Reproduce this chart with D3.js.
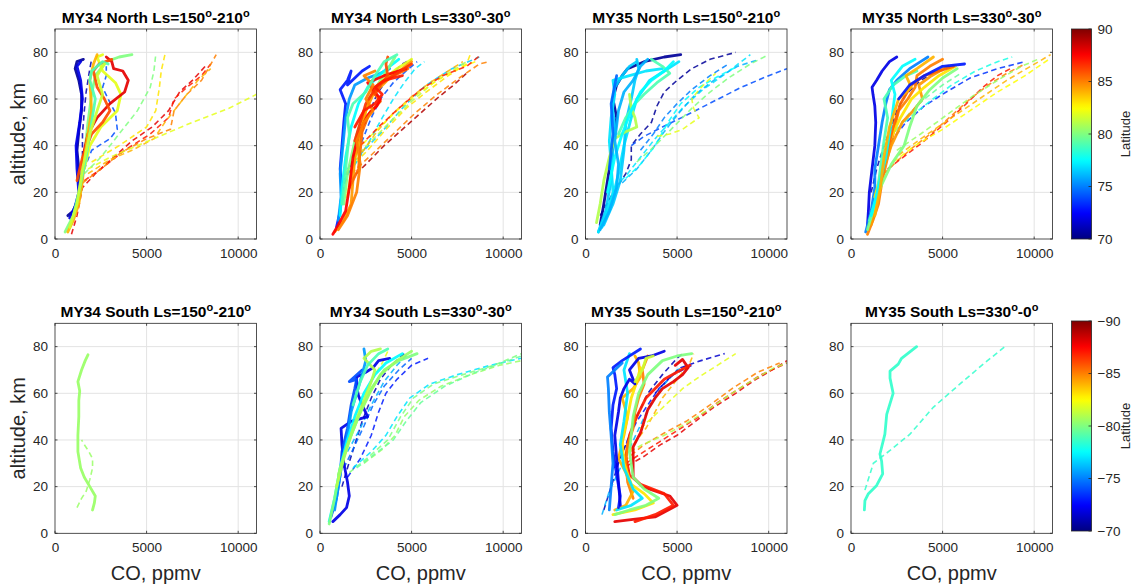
<!DOCTYPE html>
<html><head><meta charset="utf-8">
<script src="https://cdn.jsdelivr.net/npm/d3@7"></script>
<style>body{margin:0;background:#fff;} svg{display:block;font-family:"Liberation Sans",Arial,sans-serif;}</style>
</head><body><svg id="c" width="1139" height="587"></svg>
<script>
// ---------------- data ----------------
const xTicks = [0, 5000, 10000];
const yTicks = [0, 20, 40, 60, 80];
const cbTicksNorth = [70, 75, 80, 85, 90];
const cbTicksSouth = [-70, -75, -80, -85, -90];
const titles = [
  "MY34 North Ls=150^o-210^o", "MY34 North Ls=330^o-30^o", "MY35 North Ls=150^o-210^o", "MY35 North Ls=330^o-30^o",
  "MY34 South Ls=150^o-210^o", "MY34 South Ls=330^o-30^o", "MY35 South Ls=150^o-210^o", "MY35 South Ls=330^o-0^o"
];

// each profile: [latitude, [[CO ppmv, altitude km], ...]]
const p1Solid = [
  [70.5, [[700,10],[1000,12],[1300,18],[1400,22],[1300,30],[1200,38],[1300,46],[1450,55],[1450,62],[1300,68],[1100,73],[1200,76],[1550,77]]],
  [72, [[800,9],[1100,14],[1300,20],[1200,30],[1150,40],[1350,50],[1500,60],[1400,68],[1200,74],[1400,76]]],
  [80, [[550,3],[1000,10],[1400,20],[1600,35],[1800,50],[2000,62],[2200,70],[2800,76],[3500,78],[4200,79]]],
  [82, [[1600,30],[1900,40],[2500,48],[3400,55],[3600,62],[3300,67],[2600,72],[2300,78],[2600,79]]],
  [88, [[1500,30],[1600,38],[1800,45],[2300,52],[3000,58],[3800,63],[4000,68],[3700,72],[3200,73],[3100,76],[2800,78]]],
  [86, [[1200,25],[1500,35],[2000,45],[2600,50],[3000,55],[2700,60],[2300,65],[2100,72],[2400,75],[3100,77]]],
  [84, [[700,3],[1000,8],[1300,15],[1500,25],[1700,40],[2000,55],[1900,68],[2100,75],[2300,79]]],
  [79, [[1000,10],[1300,20],[1700,35],[2000,50],[2200,60],[1900,68],[2000,72],[2600,76],[2900,75]]],
  [81.5, [[800,5],[1200,15],[1500,30],[1900,45],[2300,55],[2600,62],[2300,70],[2700,75]]]
];
const p1Dashed = [
  [88, [[900,2],[1200,10],[1500,22],[2200,28],[3200,35],[4200,42],[5300,48],[6200,55],[6800,63],[7500,68],[8200,74]]],
  [87, [[1600,25],[2500,30],[3800,38],[5200,45],[6200,52],[6500,60],[7200,65],[8000,70],[8500,75]]],
  [85, [[1500,24],[2500,30],[3600,37],[5000,43],[6300,47],[6500,55],[7200,62],[8000,68],[8800,79]]],
  [84, [[1800,28],[3000,34],[4200,38],[5400,43],[6000,50],[7000,60],[7800,68],[8500,73]]],
  [82, [[1800,30],[3000,35],[4500,40],[6000,45],[7500,50],[9500,56],[11000,62]]],
  [83, [[2000,33],[3500,40],[5000,48],[5500,55],[5700,65],[5800,72],[6000,79]]],
  [80, [[1600,28],[2500,35],[3500,45],[4500,55],[5200,65],[5400,72],[5500,79]]],
  [74, [[1400,22],[1600,30],[2000,38],[3000,43],[3400,47],[3300,54],[2900,60],[2600,65],[2800,70],[2800,74]]],
  [71, [[1300,20],[1500,30],[1500,45],[1600,55],[1700,63],[1800,68],[1900,73],[2000,77]]]
];

const p2Solid = [
  [73, [[900,5],[1100,12],[1200,20],[1100,30],[1200,40],[1300,50],[1400,58],[1100,64],[1500,68],[1700,72],[1500,66],[2300,72],[2700,74]]],
  [75.5, [[1000,8],[1150,18],[1100,28],[1250,40],[1400,52],[1600,60],[1900,66],[2600,69],[3300,71],[3800,73]]],
  [77.5, [[1100,10],[1200,22],[1400,35],[1700,48],[2100,58],[2600,65],[3200,70],[3800,74],[4300,77]]],
  [80, [[1300,15],[1500,28],[1900,42],[2300,52],[2700,60],[3300,68],[3800,74],[4100,78]]],
  [82, [[1500,18],[1700,28],[2100,40],[2400,52],[2700,60],[3300,67],[4200,73],[5000,77]]],
  [84.5, [[800,3],[1300,8],[1700,15],[1800,25],[1900,35],[2200,45],[2500,55],[2900,62],[3800,69],[4500,73],[5000,76]]],
  [85.5, [[1600,22],[2100,30],[2200,38],[2300,46],[2700,54],[3300,59],[2800,64],[3500,68],[4300,71],[4800,73]]],
  [87.5, [[700,2],[1000,6],[1400,12],[1600,22],[1800,35],[2100,45],[2600,53],[3100,57],[3300,60],[2900,64],[2600,67],[3500,70],[4700,73]]],
  [86.5, [[1900,42],[2200,50],[2500,58],[2900,63],[3200,66],[4000,70],[5000,75]]],
  [86, [[3000,62],[3300,66],[3700,70],[3600,75],[3700,78]]],
  [85, [[1000,4],[1500,10],[2000,20],[2200,32],[2000,42],[2400,50],[2900,55],[2500,60],[2900,66],[2400,70],[3000,72]]],
  [87, [[1900,48],[2400,55],[3000,58],[3400,62],[3000,65],[3500,68],[4500,70]]],
  [79, [[1200,15],[1400,30],[1600,45],[1500,52],[1800,58],[2500,63],[3000,70],[3500,76],[4200,79]]]
];
const p2Dashed = [
  [89, [[1600,25],[2500,32],[3500,40],[4500,47],[5500,54],[6500,61],[7300,66],[8000,71]]],
  [85, [[1700,28],[2800,36],[4000,45],[5200,54],[6400,62],[7600,69],[8700,75],[9200,76]]],
  [83, [[1600,30],[2600,38],[3600,47],[4700,56],[5800,63],[7000,70],[8000,75],[8200,79]]],
  [77, [[1300,25],[2000,33],[2700,42],[3400,52],[4000,60],[4600,67],[5200,73],[5700,76]]],
  [76.5, [[1500,30],[2400,38],[3500,47],[4600,57],[5800,66],[7200,73],[8700,78]]],
  [74, [[1200,24],[1700,32],[2300,42],[2800,52],[3300,60],[4000,67],[4700,72],[5300,76]]],
  [71, [[1200,20],[1600,30],[2100,42],[2600,52],[3100,62],[3800,70],[4500,75],[5000,77]]],
  [81, [[1800,34],[2800,42],[3800,50],[5000,59],[6200,67],[7400,73],[8000,76]]],
  [84, [[1400,28],[2200,36],[3100,46],[4000,54],[5000,61],[6000,67],[7000,72],[7800,76]]],
  [82.5, [[2000,38],[3000,46],[4200,55],[5300,62],[6400,68],[7500,73],[8500,76]]],
  [87, [[2200,40],[3200,48],[4300,56],[5500,64],[6700,70],[8000,74],[8800,79]]]
];

const p3Solid = [
  [70.5, [[800,6],[1000,15],[1200,25],[1400,35],[1600,45],[1700,52],[1500,60],[1700,66],[2000,70],[2300,73],[3200,76],[4300,78],[5200,79]]],
  [76.5, [[700,3],[1100,12],[1400,25],[1500,38],[1600,48],[1450,58],[1600,65],[2000,70],[2400,74],[2800,76]]],
  [77, [[900,5],[1400,15],[1800,28],[2100,40],[2500,52],[2800,60],[3500,68],[4300,72],[4700,74],[5100,76]]],
  [77, [[700,3],[1100,10],[1500,20],[1400,32],[1300,42],[1400,52],[1600,62],[1500,68],[2400,70],[3300,72],[4200,73]]],
  [76.5, [[1000,6],[1500,15],[1900,25],[2100,38],[2200,50],[2500,60],[2700,68],[2900,73],[2800,77]]],
  [81, [[600,7],[800,15],[1000,25],[1300,35],[1600,43],[2200,46],[2800,48],[2700,52],[2500,56],[2400,62]]],
  [79, [[1800,45],[2200,52],[2700,58],[3200,62],[3900,67],[4600,71],[4200,74],[3600,77]]],
  [77.5, [[1200,20],[1600,35],[2000,45],[2500,55],[3000,63],[3600,68],[4300,72],[4800,76]]],
  [76, [[800,4],[1300,12],[1700,22],[1800,32],[1600,42],[1800,55],[2100,63],[2600,68],[3000,74],[3400,77]]],
  [74.5, [[1300,30],[1500,45],[1400,58],[1600,66],[1700,70]]]
];
const p3Dashed = [
  [70.5, [[800,10],[1300,17],[1700,22],[2200,28],[2500,34],[2500,40],[3000,45],[3600,50],[3900,57],[4300,63],[5000,68],[5800,73],[6800,77],[8200,80]]],
  [74, [[2500,40],[3200,44],[4200,48],[5500,53],[7000,59],[8500,65],[10000,70],[11000,73]]],
  [77, [[1600,22],[2300,28],[3000,35],[3800,43],[4600,50],[5400,57],[6400,64],[7500,70],[8500,76],[9000,79]]],
  [76, [[2000,24],[2800,30],[3600,38],[4300,46],[5100,54],[6000,62],[7000,68],[8300,74],[9500,77]]],
  [77.5, [[2200,26],[3000,32],[3800,40],[4500,50],[5200,58],[6200,65],[7300,70],[8300,74]]],
  [80, [[2800,33],[3800,40],[4800,48],[5800,56],[6800,63],[7800,69],[9000,75],[10000,79]]],
  [82, [[3900,44],[4600,45],[5300,47],[6200,52],[5900,56],[5800,60],[6200,64],[6700,68],[7100,71]]],
  [75, [[3000,38],[3700,45],[4300,52],[5000,58],[5800,64],[6800,70],[7800,75]]]
];

const p4Solid = [
  [72, [[900,6],[950,12],[1000,20],[1150,30],[1300,40],[1350,50],[1300,57],[1200,62],[1150,65],[1400,68],[1700,72],[2100,76],[2500,78]]],
  [75, [[800,3],[1100,12],[1300,22],[1300,30],[1500,40],[1700,50],[1900,58],[2100,64],[2500,68],[3200,73],[3800,76],[4200,78]]],
  [85, [[900,2],[1200,8],[1500,15],[1700,25],[2000,35],[2300,45],[2600,55],[3100,60],[3500,65],[3600,70],[4300,74],[5000,77]]],
  [84.5, [[1100,6],[1400,15],[1700,28],[2200,40],[2800,50],[3400,55],[3900,60],[3700,66],[4400,70],[5300,74]]],
  [80, [[900,4],[1200,12],[1600,22],[2200,32],[2900,40],[3200,48],[3600,57],[4300,64],[5000,69],[5800,73]]],
  [83, [[1300,18],[1700,30],[2100,42],[2700,52],[3300,60],[4000,65],[4800,70],[5700,74]]],
  [85.5, [[1500,20],[1900,35],[2300,48],[2700,58],[3300,66],[4000,70],[4800,72],[5600,74]]],
  [79, [[1000,8],[1400,18],[1600,30],[1800,42],[2000,52],[1800,60],[2300,66],[3000,70],[3600,72]]],
  [77.5, [[1100,10],[1500,22],[1900,35],[2200,50],[2400,62],[2200,68],[2800,74],[3500,77]]],
  [84, [[1300,10],[1600,22],[1800,35],[2100,48],[2600,60],[3300,65],[3000,70],[3600,73],[4500,78]]],
  [73, [[2600,60],[3200,66],[4000,70],[5000,74],[6200,75]]]
];
const p4Dashed = [
  [71, [[1100,20],[1400,30],[1800,40],[2200,48],[2500,55],[3000,62],[3800,68],[4700,72],[5500,74]]],
  [73.5, [[1600,35],[2200,42],[3000,50],[4000,57],[5200,63],[6500,69],[8000,73],[9500,76]]],
  [85, [[1800,28],[2600,34],[3500,40],[4500,46],[5500,53],[6500,60],[7500,66],[8500,71],[9500,75]]],
  [87, [[2000,30],[3000,36],[4000,42],[5200,50],[6300,58],[7200,65],[8000,70],[8700,73]]],
  [82.5, [[2300,33],[3500,40],[5000,47],[6500,55],[8000,63],[9500,70],[10800,77]]],
  [78, [[2200,45],[3200,52],[4300,59],[5500,66],[6800,72],[8000,76],[8800,78]]],
  [80.5, [[2500,38],[3800,45],[5200,53],[6600,61],[8000,68],[9300,74],[10200,77]]],
  [84, [[2600,36],[4000,44],[5500,52],[7000,60],[8500,68],[9800,74],[10900,79]]],
  [79.5, [[1800,40],[2500,47],[3200,54],[4000,60],[5000,66],[6000,71]]]
];

const p5Solid = [
  [-80.5, [[2050,10],[2150,13],[2200,16],[1900,20],[1600,24],[1400,28],[1250,35],[1250,42],[1300,50],[1300,57],[1350,61],[1250,65],[1450,70],[1650,74],[1800,76.5]]]
];
const p5Dashed = [
  [-80.5, [[1200,11],[1450,15],[1700,18],[1900,23],[2050,28],[2050,32],[1850,35],[1600,38],[1450,40]]]
];

const p6Solid = [
  [-72, [[700,5],[1100,8],[1450,11],[1600,16],[1500,22],[1300,30],[1200,38],[1150,45],[1700,48],[2600,50],[2300,55],[2100,59],[2000,63],[2000,67],[2500,69],[2900,71],[3200,74],[3800,75]]],
  [-74, [[600,7],[900,15],[1100,25],[1200,35],[1500,45],[1700,55],[1900,62],[2000,66],[1600,65],[2300,70]]],
  [-75.5, [[800,10],[1000,20],[1200,30],[1500,42],[1700,52],[2000,60],[2300,68],[2500,74],[2400,79]]],
  [-77.5, [[500,5],[800,15],[1100,28],[1500,40],[1900,50],[2400,60],[3000,68],[3600,73],[4500,77]]],
  [-80, [[500,4],[800,15],[1100,28],[1600,40],[2200,52],[2800,62],[3500,70],[4300,74],[5300,77]]],
  [-81, [[900,20],[1300,32],[1800,45],[2300,55],[2800,65],[3000,70],[2400,75],[2800,78],[3300,79]]],
  [-80.5, [[1000,25],[1500,38],[2100,50],[2700,60],[3300,68],[4200,74],[5000,78]]],
  [-79, [[1800,55],[2200,65],[2600,72],[3200,77],[3700,79]]]
];
const p6Dashed = [
  [-71, [[1200,20],[1500,28],[1900,38],[2300,48],[2800,58],[3300,66],[3900,72],[4600,77]]],
  [-73, [[1500,24],[2200,32],[2800,42],[3200,52],[3600,60],[4200,66],[5000,72],[5900,75]]],
  [-74.5, [[1300,28],[1800,36],[2400,46],[2900,55],[3500,63],[4300,70],[5000,75]]],
  [-77, [[1800,28],[2800,35],[3600,42],[4200,50],[4900,58],[6000,64],[7500,68],[9300,72],[11000,75]]],
  [-80, [[1600,26],[2700,33],[3700,40],[4400,50],[5100,58],[6200,64],[7800,68],[9500,72],[11000,77]]],
  [-80.5, [[2400,30],[3400,36],[4100,42],[4600,50],[5400,57],[6600,63],[8200,68],[9800,72],[11000,74]]],
  [-79.5, [[2000,28],[3000,34],[4000,40],[4700,48],[5500,56],[6800,63],[8500,69],[11000,76]]],
  [-82, [[2300,55],[2600,62],[3000,68],[3400,73],[3700,78]]],
  [-76, [[1500,35],[2200,45],[2800,55],[3500,65],[4200,72],[4800,77]]]
];

const p7Solid = [
  [-88, [[1600,5],[2600,6],[3800,7],[5000,12],[4600,16],[3100,20],[2600,24],[2600,30],[2600,37],[3000,43],[3200,48],[3400,53],[3800,58],[4200,62],[4800,65],[5300,68],[5600,71],[5300,74.5],[4900,72]]],
  [-87, [[2700,5],[3800,8],[4800,12],[4300,17],[3000,21],[2400,25],[2200,33],[2400,42],[2800,50],[3300,58],[4300,66],[5200,70],[5700,72]]],
  [-85, [[2600,15],[2300,22],[2200,30],[2300,38],[2600,45],[2700,52],[2900,58],[3200,64],[3100,70],[3400,76]]],
  [-84, [[1600,10],[2200,12],[2600,18],[2200,26],[1800,32],[2100,42],[2300,50],[2000,58],[2600,62],[3000,67],[2900,73],[2700,76]]],
  [-83, [[1500,8],[2700,10],[3700,13],[3200,17],[2500,21],[2100,30],[2000,40],[2300,50],[2500,58],[2800,65],[3000,71]]],
  [-77, [[1700,10],[2500,12],[3100,15],[2600,19],[2100,28],[1900,38],[2100,48],[2300,60],[2100,70],[2400,77]]],
  [-73, [[1800,11],[1900,16],[1700,25],[1500,35],[1400,45],[1500,55],[1700,62],[1600,68],[1500,71],[2000,74],[3000,79]]],
  [-72, [[1900,12],[1800,22],[1700,32],[1600,42],[1800,52],[1900,58],[2100,62],[2400,66],[2700,64],[2400,70],[2900,75],[3600,76],[4300,78]]],
  [-75, [[1300,10],[1400,20],[1500,30],[1400,42],[1300,52],[1250,62],[1200,67],[1600,70],[2000,73]]],
  [-80, [[1600,8],[2400,10],[3300,12],[4000,15],[3200,19],[2600,24],[2400,35],[2600,50],[2900,60],[3400,68],[4200,74],[5000,76],[5800,77]]],
  [-81.5, [[2700,65],[3100,70],[3300,75],[3700,76]]]
];
const p7Dashed = [
  [-88, [[2300,29],[3200,33],[4100,38],[5000,42],[6000,48],[7000,54],[8200,60],[9300,66],[10400,71],[11000,74]]],
  [-87, [[2200,30],[3000,34],[4000,39],[5000,44],[6200,50],[7200,56],[8400,62],[9600,68],[11000,73]]],
  [-85, [[2100,31],[3200,38],[4300,43],[5500,48],[6800,55],[8000,62],[9400,69],[10600,73]]],
  [-81, [[2000,33],[3100,38],[4300,42],[5500,47],[6700,53],[7800,59],[9000,65],[10300,71],[11000,73]]],
  [-73, [[1600,28],[2200,38],[2800,48],[3400,55],[4000,62],[4800,68],[5800,72]]],
  [-71, [[1000,10],[1400,20],[1800,30],[2300,40],[2800,50],[3400,60],[4200,68],[5000,75],[5300,77]]],
  [-76, [[900,8],[1300,18],[1900,28],[2500,38],[3100,48],[3600,56],[4200,63],[5000,70],[5600,72]]],
  [-84, [[2400,35],[2800,40],[3300,45],[3800,52],[4200,58],[4700,63],[5200,68],[5700,73],[5900,77]]],
  [-82, [[3000,45],[3700,50],[4500,56],[5300,62],[6200,67],[7200,72],[8200,77]]],
  [-71.5, [[3800,60],[4500,66],[5200,71],[6300,74],[7600,77]]]
];

const p8Solid = [
  [-78.5, [[730,10],[760,14],[950,17],[1400,20.5],[1730,25.5],[1670,31],[1580,34],[1850,42.5],[1950,51],[2300,60],[2130,66.5],[2130,69.5],[2580,72.5],[2760,75],[3580,80]]]
];
const p8Dashed = [
  [-78.5, [[760,18.5],[1040,25.5],[1220,30],[2130,35.5],[3220,42.5],[4490,54],[5950,64],[7220,72.5],[8400,80]]]
];

// ---------------- layout ----------------
const colLeft = [55, 320, 585.5, 851];
const axW = 201.5;
const rowTop = [29, 323.3];
const axH = 210;
const panelSolid = [p1Solid, p2Solid, p3Solid, p4Solid, p5Solid, p6Solid, p7Solid, p8Solid];
const panelDashed = [p1Dashed, p2Dashed, p3Dashed, p4Dashed, p5Dashed, p6Dashed, p7Dashed, p8Dashed];

function jet(t) {
  t = Math.max(0, Math.min(1, t));
  const c = v => Math.round(255 * Math.max(0, Math.min(1, v)));
  return `rgb(${c(1.5 - Math.abs(4 * t - 3))},${c(1.5 - Math.abs(4 * t - 2))},${c(1.5 - Math.abs(4 * t - 1))})`;
}
const latColor = lat => jet((Math.abs(lat) - 70) / 20);

const svg = d3.select("#c");
const axisCol = "#262626";
const gridCol = "#e3e3e3";

function addTitle(g, str, x, y) {
  const t = g.append("text").attr("x", x).attr("y", y).attr("text-anchor", "middle")
    .attr("font-size", 15.5).attr("font-weight", "bold").attr("fill", "#000");
  const parts = str.split("^o");
  parts.forEach((p, i) => {
    if (i > 0) {
      t.append("tspan").attr("font-size", 11).attr("dy", -6).text("o");
      if (p !== "") t.append("tspan").attr("dy", 6).text(p);
    } else t.append("tspan").text(p);
  });
}

const defs = svg.append("defs");

for (let k = 0; k < 8; k++) {
  const row = Math.floor(k / 4), col = k % 4;
  const x0 = colLeft[col], y0 = rowTop[row];
  const x = d3.scaleLinear().domain([0, 11000]).range([x0, x0 + axW]);
  const y = d3.scaleLinear().domain([0, 90]).range([y0 + axH, y0]);
  const g = svg.append("g");

  // grid
  g.selectAll(null).data(xTicks.slice(1)).join("line")
    .attr("x1", d => x(d)).attr("x2", d => x(d)).attr("y1", y0).attr("y2", y0 + axH)
    .attr("stroke", gridCol).attr("stroke-width", 1);
  g.selectAll(null).data(yTicks.slice(1)).join("line")
    .attr("x1", x0).attr("x2", x0 + axW).attr("y1", d => y(d)).attr("y2", d => y(d))
    .attr("stroke", gridCol).attr("stroke-width", 1);

  // clip
  const cid = "clip" + k;
  defs.append("clipPath").attr("id", cid).append("rect")
    .attr("x", x0).attr("y", y0).attr("width", axW).attr("height", axH);
  const lg = g.append("g").attr("clip-path", `url(#${cid})`);
  const line = d3.line().x(d => x(d[0])).y(d => y(d[1])).curve(d3.curveLinear);

  lg.selectAll(null).data(panelDashed[k]).join("path")
    .attr("d", d => line(d[1])).attr("fill", "none")
    .attr("stroke", d => latColor(d[0])).attr("stroke-width", 1.6)
    .attr("stroke-dasharray", "5.5,3.5").attr("opacity", 0.85);
  lg.selectAll(null).data(panelSolid[k]).join("path")
    .attr("d", d => line(d[1])).attr("fill", "none")
    .attr("stroke", d => latColor(d[0])).attr("stroke-width", 2.8)
    .attr("stroke-linejoin", "round").attr("stroke-linecap", "round").attr("opacity", 0.92);

  // box
  g.append("rect").attr("x", x0).attr("y", y0).attr("width", axW).attr("height", axH)
    .attr("fill", "none").attr("stroke", axisCol).attr("stroke-width", 0.8);
  // inward ticks
  xTicks.forEach(v => {
    g.append("line").attr("x1", x(v)).attr("x2", x(v)).attr("y1", y0 + axH).attr("y2", y0 + axH - 2.5).attr("stroke", axisCol).attr("stroke-width", 0.8);
    g.append("line").attr("x1", x(v)).attr("x2", x(v)).attr("y1", y0).attr("y2", y0 + 2.5).attr("stroke", axisCol).attr("stroke-width", 0.8);
  });
  yTicks.forEach(v => {
    g.append("line").attr("x1", x0).attr("x2", x0 + 2.5).attr("y1", y(v)).attr("y2", y(v)).attr("stroke", axisCol).attr("stroke-width", 0.8);
    g.append("line").attr("x1", x0 + axW).attr("x2", x0 + axW - 2.5).attr("y1", y(v)).attr("y2", y(v)).attr("stroke", axisCol).attr("stroke-width", 0.8);
  });

  // tick labels via d3 axes
  const ax = g.append("g").attr("transform", `translate(0,${y0 + axH})`)
    .call(d3.axisBottom(x).tickValues(xTicks).tickSize(0).tickPadding(9).tickFormat(d3.format("d")));
  const ay = g.append("g").attr("transform", `translate(${x0},0)`)
    .call(d3.axisLeft(y).tickValues(yTicks).tickSize(0).tickPadding(7).tickFormat(d3.format("d")));
  [ax, ay].forEach(a => {
    a.select(".domain").remove();
    a.selectAll("text").attr("font-size", 13.5).attr("fill", axisCol)
      .attr("font-family", '"Liberation Sans",Arial,sans-serif');
  });

  addTitle(g, titles[k], x0 + axW / 2, y0 - 6.5);

  if (col === 0) {
    g.append("text").attr("transform", `translate(25,${y0 + axH / 2}) rotate(-90)`)
      .attr("text-anchor", "middle").attr("font-size", 20).attr("fill", axisCol).text("altitude, km");
  }
  if (row === 1) {
    g.append("text").attr("x", x0 + axW / 2).attr("y", 580).attr("text-anchor", "middle")
      .attr("font-size", 20).attr("fill", axisCol).text("CO, ppmv");
  }
}

// ---------------- colorbars ----------------
const grad = defs.append("linearGradient").attr("id", "jetg").attr("x1", 0).attr("y1", 1).attr("x2", 0).attr("y2", 0);
d3.range(0, 1.0001, 0.02).forEach(t => grad.append("stop").attr("offset", t).attr("stop-color", jet(t)));

const cbs = [
  { top: 29, bot: 239, ticks: cbTicksNorth, dom: [70, 90] },
  { top: 321, bot: 531, ticks: cbTicksSouth, dom: [-70, -90] }
];
const cbX = 1071.5, cbW = 20;
cbs.forEach(cb => {
  const g = svg.append("g");
  const s = d3.scaleLinear().domain(cb.dom).range([cb.bot, cb.top]);
  g.append("rect").attr("x", cbX).attr("y", cb.top).attr("width", cbW).attr("height", cb.bot - cb.top)
    .attr("fill", "url(#jetg)").attr("stroke", axisCol).attr("stroke-width", 0.8);
  cb.ticks.forEach(v => {
    g.append("line").attr("x1", cbX + cbW).attr("x2", cbX + cbW - 3).attr("y1", s(v)).attr("y2", s(v)).attr("stroke", axisCol).attr("stroke-width", 0.8);
  });
  const a = g.append("g").attr("transform", `translate(${cbX + cbW},0)`)
    .call(d3.axisRight(s).tickValues(cb.ticks).tickSize(0).tickPadding(6).tickFormat(d3.format("d")));
  a.select(".domain").remove();
  a.selectAll("text").attr("font-size", 13.5).attr("fill", axisCol).attr("font-family", '"Liberation Sans",Arial,sans-serif');
  g.append("text").attr("transform", `translate(1130,${(cb.top + cb.bot) / 2}) rotate(-90)`)
    .attr("text-anchor", "middle").attr("font-size", 13).attr("fill", axisCol).text("Latitude");
});
</script></body></html>
